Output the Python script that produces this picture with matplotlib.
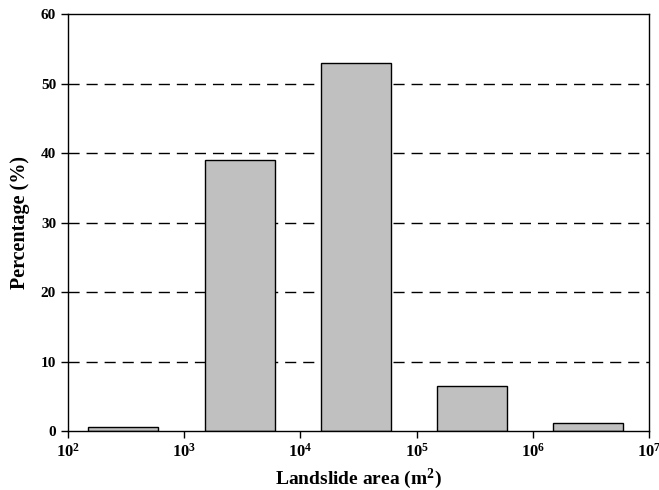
import matplotlib
matplotlib.use("Agg")
import matplotlib.pyplot as plt
import numpy as np

plt.rcParams['font.family'] = ['Liberation Serif', 'DejaVu Serif']
plt.rcParams['font.weight'] = 'bold'
plt.rcParams['mathtext.fontset'] = 'custom'
plt.rcParams['mathtext.rm'] = 'Liberation Serif:bold'
plt.rcParams['mathtext.bf'] = 'Liberation Serif:bold'
plt.rcParams['mathtext.it'] = 'Liberation Serif:bold'

# data
bin_left = [1.5e2, 1.5e3, 1.5e4, 1.5e5, 1.5e6]
bin_right = [6e2, 6e3, 6e4, 6e5, 6e6]
percentages = [0.6, 39, 53, 6.5, 1.2]
xticks = [1e2, 1e3, 1e4, 1e5, 1e6, 1e7]
xtick_labels = [r'$\mathbf{10^{%d}}$' % e for e in range(2, 8)]
yticks = [0, 10, 20, 30, 40, 50, 60]

fig = plt.figure(figsize=(6.59, 4.9), dpi=100)
ax = fig.add_axes([0.103, 0.120, 0.882, 0.851])

for y in yticks[1:-1]:
    ax.axhline(y, color='black', linestyle=(0, (8, 5)), linewidth=1.0, zorder=0)

widths = [r - l for l, r in zip(bin_left, bin_right)]
ax.bar(bin_left, percentages, width=widths, align='edge', color='#c0c0c0',
       edgecolor='black', linewidth=1.0, zorder=2)

ax.set_xscale('log')
ax.set_xlim(1e2, 1e7)
ax.set_ylim(0, 60)
ax.set_xticks(xticks)
ax.set_xticklabels(xtick_labels)
ax.xaxis.set_minor_locator(matplotlib.ticker.NullLocator())
ax.set_yticks(yticks)
ax.tick_params(axis='both', direction='out', length=5, width=1, labelsize=11)
ax.tick_params(axis='x', labelsize=12)
for s in ax.spines.values():
    s.set_linewidth(1.0)

ax.set_xlabel(r'Landslide area (m$^{\mathbf{2}}$)', fontsize=14, fontweight='bold')
ax.set_ylabel('Percentage (%)', fontsize=14.5, fontweight='bold', labelpad=8)

fig.savefig('out.png', dpi=100)
